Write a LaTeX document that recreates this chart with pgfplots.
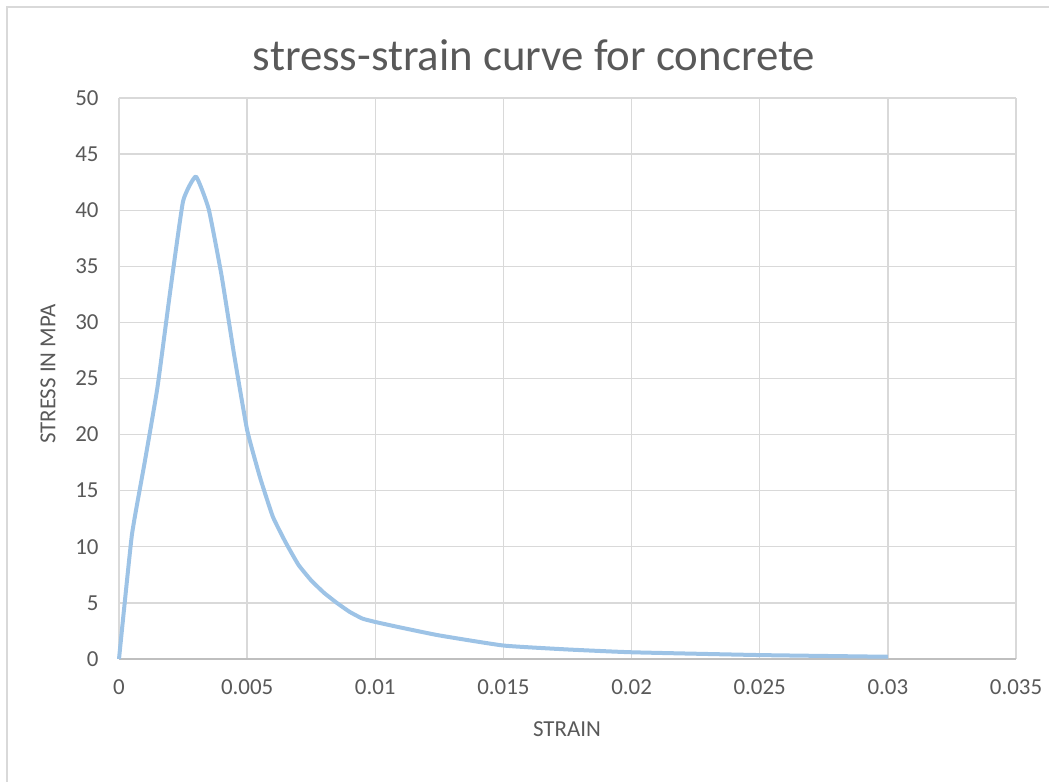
\documentclass[border=0pt]{standalone}
\usepackage{pgfplots}
\pgfplotsset{compat=1.18}
\usepackage{fontspec}
\setmainfont{Carlito}
\definecolor{txt}{HTML}{595959}
\definecolor{grd}{HTML}{D9D9D9}
\definecolor{axl}{HTML}{BFBFBF}
\definecolor{ln}{HTML}{9DC3E6}
\begin{document}
\begin{tikzpicture}
\path[use as bounding box] (-119bp,-123bp) rectangle (930bp,659bp);
\draw[grd, line width=1.2bp] (-112bp,-125bp) -- (-112bp,652bp) -- (932bp,652bp);
\begin{axis}[
  at={(0,0)}, anchor=south west,
  scale only axis, width=897bp, height=561bp,
  xmin=0, xmax=0.035, ymin=0, ymax=50,
  xtick={0,0.005,0.01,0.015,0.02,0.025,0.03,0.035},
  xticklabels={0,0.005,0.01,0.015,0.02,0.025,0.03,0.035},
  scaled x ticks=false,
  ytick={0,5,...,50},
  grid=major,
  major grid style={grd, line width=1.3bp},
  axis line style={draw=none},
  major tick length=0pt,
  tick label style={font=\fontsize{23}{27}\selectfont, text=txt},
  /pgf/number format/assume math mode=true,
  yticklabel style={xshift=-17bp},
  xticklabel style={yshift=-17bp},
  clip=false,
]
\draw[axl, line width=1.3bp] (axis cs:0,0) -- (axis cs:0.035,0);
\addplot[ln, line width=4bp, smooth, tension=0.25, line join=round] coordinates {
(0,0)
(0.0005,11)
(0.001,17.5)
(0.0015,24.2)
(0.002,32.8)
(0.0025,40.8)
(0.003,43)
(0.0035,40.1)
(0.004,34.2)
(0.0045,27.0)
(0.005,20.4)
(0.0055,16.2)
(0.006,12.7)
(0.0065,10.4)
(0.007,8.4)
(0.0075,7.0)
(0.008,5.9)
(0.0085,5.0)
(0.009,4.2)
(0.0095,3.6)
(0.01,3.3)
(0.011,2.8)
(0.0125,2.1)
(0.015,1.2)
(0.0175,0.85)
(0.02,0.6)
(0.025,0.35)
(0.03,0.2)
};
\end{axis}
\node[text=txt, font=\fontsize{45}{52}\selectfont] at (415bp,604bp) {stress-strain curve for concrete};
\node[text=txt, font=\fontsize{23}{27}\selectfont] at (448bp,-70bp) {STRAIN};
\node[text=txt, font=\fontsize{23}{27}\selectfont, rotate=90] at (-71bp,285bp) {STRESS IN MPA};
\end{tikzpicture}
\end{document}
